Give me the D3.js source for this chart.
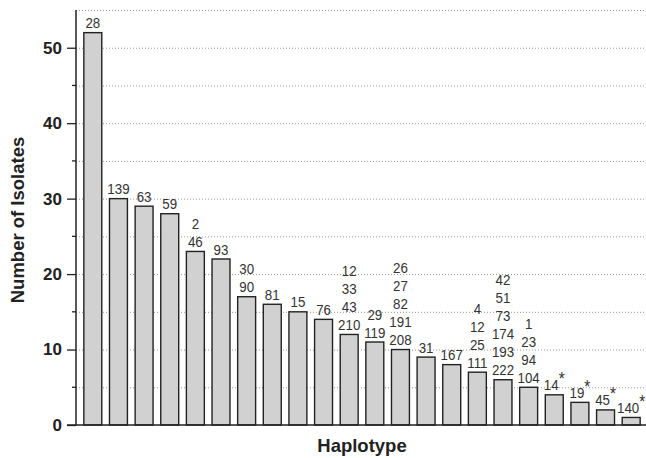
<!DOCTYPE html>
<html>
<head>
<meta charset="utf-8" />
<script src="https://cdnjs.cloudflare.com/ajax/libs/d3/7.8.5/d3.min.js"></script>
<style>
	body { margin: 0; background: #fff; }
	.ticklabel { font-family: "Liberation Sans", Arial, sans-serif; font-weight: bold; font-size: 17px; fill: #222; }
	.title { font-family: "Liberation Sans", Arial, sans-serif; font-weight: bold; font-size: 18.5px; fill: #222; }
	.barlabel { font-family: "Liberation Sans", Arial, sans-serif; font-size: 15.5px; fill: #333; }
	.grid line { stroke: #999; stroke-dasharray: 1,2; }
</style>
</head>
<body>
<script>
	// number of isolates per haplotype group
	var counts = [52, 30, 29, 28, 23, 22, 17, 16, 15, 14, 12, 11, 10, 9, 8, 7, 6, 5, 4, 3, 2, 1];
	// haplotype ids shown over each bar (top to bottom)
	var haplotypes = [
		["28"], ["139"], ["63"], ["59"], ["2", "46"], ["93"], ["30", "90"], ["81"], ["15"], ["76"],
		["12", "33", "43", "210"], ["29", "119"], ["26", "27", "82", "191", "208"], ["31"], ["167"],
		["4", "12", "25", "111"], ["42", "51", "73", "174", "193", "222"], ["1", "23", "94", "104"],
		["14"], ["19"], ["45"], ["140"]
	];
	// bars whose label carries an asterisk
	var starred = [false, false, false, false, false, false, false, false, false, false, false,
		false, false, false, false, false, false, false, true, true, true, true];
	var yMajor = [0, 10, 20, 30, 40, 50];
	var yMinor = [5, 15, 25, 35, 45];
	var gridVals = [5, 10, 15, 20, 25, 30, 35, 40, 45, 50, 55];

	var width = 646, height = 458;
	var mLeft = 76, mRight = 646, mTop = 10, mBottom = 425;

	var svg = d3.select("body").append("svg")
		.attr("width", width)
		.attr("height", height);

	var x = d3.scaleBand()
		.domain(d3.range(counts.length))
		.range([80, 644])
		.paddingInner(0.3)
		.paddingOuter(0.15);

	var y = d3.scaleLinear()
		.domain([0, 55])
		.range([mBottom, mTop]);

	// dotted grid
	svg.append("g")
		.attr("class", "grid")
		.selectAll("line")
		.data(gridVals)
		.enter().append("line")
		.attr("x1", mLeft)
		.attr("x2", mRight)
		.attr("y1", function(d) { return y(d) + 0.5; })
		.attr("y2", function(d) { return y(d) + 0.5; });

	// bars
	svg.append("g")
		.selectAll("rect")
		.data(counts)
		.enter().append("rect")
		.attr("x", function(d, i) { return x(i); })
		.attr("y", function(d) { return y(d); })
		.attr("width", x.bandwidth())
		.attr("height", function(d) { return mBottom - y(d); })
		.attr("fill", "#d0d1d0")
		.attr("stroke", "#222")
		.attr("stroke-width", 1.4);

	// labels over bars (narrowed, the original uses a condensed face)
	var lab = svg.append("g")
		.selectAll("text")
		.data(counts)
		.enter().append("text")
		.attr("class", "barlabel")
		.attr("text-anchor", "middle")
		.attr("transform", function(d, i) {
			return "translate(" + (x(i) + x.bandwidth() / 2) + "," + (y(d) - 4.5) + ") scale(0.86,1)";
		});

	lab.each(function(d, i) {
		var t = d3.select(this);
		var ids = haplotypes[i];
		ids.forEach(function(s, k) {
			t.append("tspan")
				.attr("x", 0)
				.attr("dy", k == 0 ? -(ids.length - 1) * 18 : 18)
				.text(s);
		});
		if (starred[i]) {
			t.append("tspan")
				.attr("dy", -5)
				.attr("font-size", "18px")
				.text("*");
		}
	});

	// y axis
	var yAxis = d3.axisLeft(y)
		.tickValues(yMajor)
		.tickSize(9)
		.tickPadding(5);
	var ag = svg.append("g")
		.attr("transform", "translate(" + mLeft + ",0)")
		.call(yAxis);
	ag.select(".domain").remove();
	ag.attr("font-size", null).attr("font-family", null);
	ag.selectAll(".tick line").attr("stroke", "#222").attr("stroke-width", 1.3);
	ag.selectAll(".tick text").attr("class", "ticklabel");

	svg.append("g")
		.selectAll("line")
		.data(yMinor)
		.enter().append("line")
		.attr("x1", mLeft - 4)
		.attr("x2", mLeft)
		.attr("y1", function(d) { return y(d); })
		.attr("y2", function(d) { return y(d); })
		.attr("stroke", "#222")
		.attr("stroke-width", 1.3);

	svg.append("line")
		.attr("x1", mLeft).attr("x2", mLeft)
		.attr("y1", mTop).attr("y2", mBottom)
		.attr("stroke", "#222").attr("stroke-width", 1.5);
	svg.append("line")
		.attr("x1", mLeft - 9).attr("x2", mRight)
		.attr("y1", mBottom).attr("y2", mBottom)
		.attr("stroke", "#222").attr("stroke-width", 1.5);

	// axis titles
	svg.append("text")
		.attr("class", "title")
		.attr("text-anchor", "middle")
		.attr("transform", "translate(24,220) rotate(-90)")
		.text("Number of Isolates");
	svg.append("text")
		.attr("class", "title")
		.attr("text-anchor", "middle")
		.attr("x", 362)
		.attr("y", 452)
		.text("Haplotype");
</script>
</body>
</html>
